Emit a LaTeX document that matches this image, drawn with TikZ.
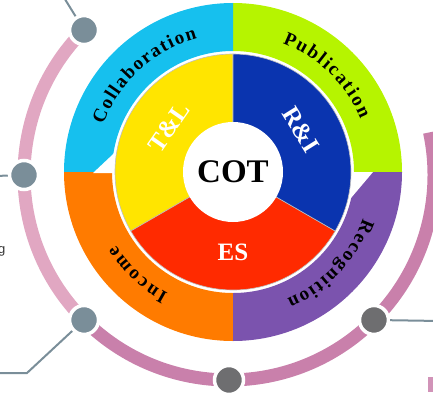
\documentclass[tikz,border=0pt]{standalone}
\usepackage{fontspec}
\setmainfont{Liberation Serif}
\newfontfamily\labelsans{Liberation Sans}
\usetikzlibrary{decorations.text}
\definecolor{collab}{HTML}{16C0EE}
\definecolor{publ}{HTML}{B6F400}
\definecolor{recog}{HTML}{7B53AE}
\definecolor{income}{HTML}{FF7B00}
\definecolor{tlcol}{HTML}{FFE500}
\definecolor{ricol}{HTML}{0A34AF}
\definecolor{escol}{HTML}{FF2A00}
\definecolor{pinklt}{HTML}{E1A7C2}
\definecolor{pinkdk}{HTML}{C980AB}
\definecolor{hubblue}{HTML}{7A8E99}
\definecolor{hubgrey}{HTML}{6E6E70}
\newcommand\ringfont{\fontsize{19}{19}\selectfont\bfseries}

\begin{document}
\begin{tikzpicture}[x=1pt, y=1pt,
                hub/.style={circle, draw=white, line width=3.5pt, minimum size=29pt, inner sep=0pt},
                link/.style={draw=hubblue, line width=2pt},
                band/.style={line width=13pt}]
                \tikzset{ringtext/.style={font=\ringfont, decorate, decoration={text along path, text align={fit to path}, text={|\ringfont|#1}}},
                         coretext/.style={text=white, inner sep=0pt, font=\fontsize{25}{25}\selectfont\bfseries},
                         sector/.style={draw=gray!50, line width=0.6pt}}
                \useasboundingbox (0,0) rectangle (433,392);
                \clip (0,0) rectangle (433,392);
                \coordinate (c) at (233,220);
                \coordinate (rc) at (229,217);
                % pink band round the wheel
                \draw[band, pinklt] ([shift={(135:205)}]rc) arc[start angle=135, end angle=225, radius=205];
                \draw[band, pinkdk] ([shift={(225:205)}]rc) arc[start angle=225, end angle=372, radius=205];
                \fill[pinkdk!85] (428,0) rectangle (433,15);
                % hubs on the band
                \node[hub, fill=hubblue] (h1) at ([shift={(135:205)}]rc) {};
                \node[hub, fill=hubblue] (h2) at ([shift={(180:205)}]rc) {};
                \node[hub, fill=hubblue] (h3) at ([shift={(225:205)}]rc) {};
                \node[hub, fill=hubgrey] (h4) at ([shift={(270:205)}]rc) {};
                \node[hub, fill=hubgrey] (h5) at ([shift={(315:205)}]rc) {};
                \coordinate (e1) at (63,396);
                \coordinate (e2) at (-5,216);
                \coordinate (k3) at (27,19);
                \coordinate (e3) at (-5,19);
                \coordinate (e5) at (440,71);
                \draw[link] (h1) -- (e1);
                \draw[link] (h2) -- (e2);
                \draw[link] (h3) -- (k3) -- (e3);
                \draw[link] (h5) -- (e5);
                \node[anchor=base east, inner sep=0pt, text=black!80, font=\labelsans\fontsize{13}{13}\selectfont] (cut) at (5.5,139) {g};
                % outer ring
                \fill[publ] ([shift={(0:169)}]c) arc[start angle=0, end angle=90, radius=169] -- ([shift={(90:121)}]c) arc[start angle=90, end angle=0, radius=121] -- cycle;
                \fill[collab] ([shift={(90:169)}]c) arc[start angle=90, end angle=180, radius=169] -- ([shift={(180:121)}]c) arc[start angle=180, end angle=90, radius=121] -- cycle;
                \fill[income] ([shift={(180:169)}]c) arc[start angle=180, end angle=270, radius=169] -- ([shift={(270:121)}]c) arc[start angle=270, end angle=180, radius=121] -- cycle;
                \fill[recog] ([shift={(270:169)}]c) arc[start angle=270, end angle=360, radius=169] -- ([shift={(0:121)}]c) arc[start angle=360, end angle=270, radius=121] -- cycle;
                \fill[white] (93,219) -- (122,219) -- (126,250) -- cycle;
                \fill[white] (373,220) -- (330,220) -- (340,181) -- cycle;
                \begin{scope}
                \ringfont
                \path[ringtext=Collaboration] ([shift={(160:138)}]c) arc[start angle=160, end angle=105, radius=138];
                \path[ringtext=Publication] ([shift={(69:138)}]c) arc[start angle=69, end angle=22.5, radius=138];
                \path[ringtext=Recognition] ([shift={(-19.5:138)}]c) arc[start angle=-19.5, end angle=-67, radius=138];
                \path[ringtext=Income] ([shift={(242:138)}]c) arc[start angle=242, end angle=212, radius=138];
                \end{scope}
                % inner ring
                \filldraw[sector, fill=tlcol] (c) -- ([shift={(90:118)}]c) arc[start angle=90, end angle=210, radius=118] -- cycle;
                \filldraw[sector, fill=escol] (c) -- ([shift={(210:118)}]c) arc[start angle=210, end angle=330, radius=118] -- cycle;
                \filldraw[sector, fill=ricol] (c) -- ([shift={(-30:118)}]c) arc[start angle=-30, end angle=90, radius=118] -- cycle;
                \node[circle, fill=white, minimum size=100pt, inner sep=0pt, font=\fontsize{33}{33}\selectfont\bfseries] (cot) at (c) {COT};
                \node[coretext, rotate=55] (tl) at ([shift={(145:78)}]c) {T\&L};
                \node[coretext, rotate=-58] (ri) at ([shift={(32:80)}]c) {R\&I};
                \node[coretext] (es) at ([shift={(-90:80)}]c) {ES};
            \end{tikzpicture}
\end{document}
